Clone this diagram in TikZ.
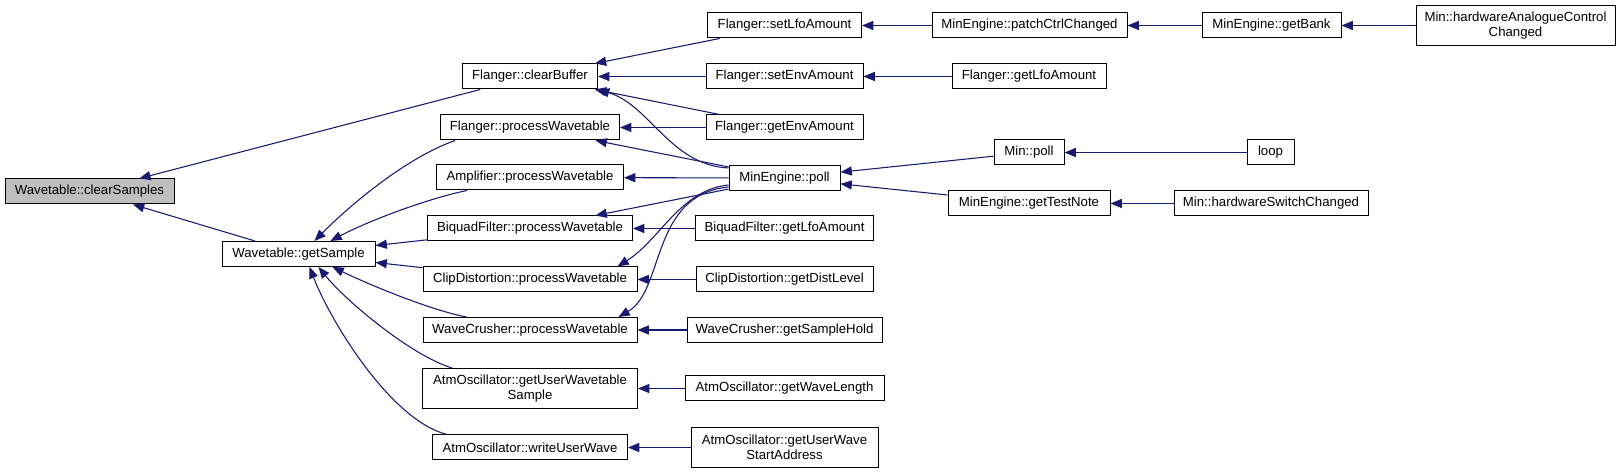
\documentclass[tikz,border=0pt]{standalone}
\usepackage{fontspec}
\setmainfont{Liberation Sans}
\usetikzlibrary{positioning,arrows.meta,calc}
\definecolor{edgeblue}{HTML}{191970}
\definecolor{rootgray}{HTML}{BFBFBF}
\tikzset{
  >={Triangle[length=8.5pt,width=6.8pt]},
  fn/.style={draw=black,line width=0.75pt,fill=white,inner sep=0pt,
    minimum height=25*0.75pt,align=center,
    font=\fontsize{9.9}{11.2}\selectfont},
  root/.style={fn,fill=rootgray},
  wd/.style={minimum width=#1*0.75pt},
  tall/.style={minimum height=40*0.75pt},
  call/.style={<-,draw=edgeblue,line width=0.8pt}
}

\begin{document}
\begin{tikzpicture}[x=0.75pt,y=-0.75pt]
  \useasboundingbox (0,0) rectangle (1620,473);

  % the function and its direct callers
  \node[root,wd=169] (cs) at (89.5,191.5) {Wavetable::clearSamples};
  \node[fn,wd=153] (gs) at (298.5,254) {Wavetable::getSample};

  % second column
  \node[fn,wd=135] (fcb) at (530,76.5) {Flanger::clearBuffer};
  \node[fn,wd=179] (fpw) at (530,127.5) {Flanger::processWavetable};
  \node[fn,wd=187] (amp) at (530,177.5) {Amplifier::processWavetable};
  \node[fn,wd=205] (biq) at (530,228.5) {BiquadFilter::processWavetable};
  \node[fn,wd=214] (clip) at (530,279.5) {ClipDistortion::processWavetable};
  \node[fn,wd=214] (wc) at (530,330) {WaveCrusher::processWavetable};
  \node[fn,wd=215,tall] (guws) at (530,388.5) {AtmOscillator::getUserWavetable\\Sample};
  \node[fn,wd=195] (wuw) at (530,447.5) {AtmOscillator::writeUserWave};

  % third column
  \node[fn,wd=154] (fsl) at (784.5,25.5) {Flanger::setLfoAmount};
  \node[fn,wd=157] (fse) at (784.5,76.5) {Flanger::setEnvAmount};
  \node[fn,wd=157] (fge) at (784.5,127.5) {Flanger::getEnvAmount};
  \node[fn,wd=111] (poll) at (784.5,178) {MinEngine::poll};
  \node[fn,wd=178] (bgl) at (784.5,228.5) {BiquadFilter::getLfoAmount};
  \node[fn,wd=177] (cgd) at (784.5,279.5) {ClipDistortion::getDistLevel};
  \node[fn,wd=195] (wgs) at (784.5,330) {WaveCrusher::getSampleHold};
  \node[fn,wd=199] (gwl) at (784.5,388.5) {AtmOscillator::getWaveLength};
  \node[fn,wd=187,tall] (gws) at (784.5,447.5) {AtmOscillator::getUserWave\\StartAddress};

  % further callers
  \node[fn,wd=195] (pcc) at (1029.5,25.5) {MinEngine::patchCtrlChanged};
  \node[fn,wd=154] (fgl) at (1029,76.5) {Flanger::getLfoAmount};
  \node[fn,wd=70] (mpoll) at (1029,152.5) {Min::poll};
  \node[fn,wd=162] (gtn) at (1029,203.5) {MinEngine::getTestNote};
  \node[fn,wd=139] (gbk) at (1271.5,25.5) {MinEngine::getBank};
  \node[fn,wd=47] (lp) at (1270.5,152.5) {loop};
  \node[fn,wd=194] (hsc) at (1271,203.5) {Min::hardwareSwitchChanged};
  \node[fn,wd=199,tall] (hac) at (1515.5,25.5) {Min::hardwareAnalogueControl\\Changed};

  % straight calls
  \draw[call] (cs) -- (fcb);
  \draw[call] (cs) -- (gs);
  \draw[call] (fcb) -- (fsl);
  \draw[call] (fcb) -- (fse);
  \draw[call] (fcb) -- (fge);
  \draw[call] (fsl) -- (pcc);
  \draw[call] (pcc) -- (gbk);
  \draw[call] (gbk) -- (hac);
  \draw[call] (fse) -- (fgl);
  \draw[call] (fpw) -- (fge);
  \draw[call] (fpw) -- (poll);
  \draw[call] (amp) -- (poll);
  \draw[call] (biq) -- (poll);
  \draw[call] (biq) -- (bgl);
  \draw[call] (gs) -- (biq);
  \draw[call] (clip) -- (cgd);
  \draw[call] (gs) -- (clip);
  \draw[call] (wc) -- (wgs);
  \draw[call] (guws) -- (gwl);
  \draw[call] (wuw) -- (gws);
  \draw[call] (poll) -- (mpoll);
  \draw[call] (poll) -- (gtn);
  \draw[call] (mpoll) -- (lp);
  \draw[call] (gtn) -- (hsc);

  % curved calls
  \draw[call] (fcb.south east) .. controls (650,105) and (670,165) .. ($(poll.west)+(0,-10)$);
  \draw[call] ($(gs.north)+(16,0)$) .. controls (340,215) and (400,160) .. ($(fpw.south west)+(15,0)$);
  \draw[call] ($(gs.north)+(32,0)$) .. controls (370,220) and (430,198) .. ($(amp.south west)+(31,0)$);
  \draw[call] ($(gs.south)+(34,0)$) .. controls (370,285) and (430,310) .. ($(wc.north west)+(44,0)$);
  \draw[call] ($(gs.south)+(20,0)$) .. controls (345,300) and (410,355) .. ($(guws.north west)+(30,0)$);
  \draw[call] ($(gs.south)+(11,0)$) .. controls (330,320) and (390,420) .. ($(wuw.north west)+(15,0)$);
  \draw[call] ($(clip.north east)+(-20,0)$) .. controls (660,240) and (680,190) .. ($(poll.west)+(0,7)$);
  \draw[call] ($(wc.north east)+(-19,0)$) .. controls (665,290) and (650,195) .. ($(poll.west)+(0,9)$);
\end{tikzpicture}
\end{document}
